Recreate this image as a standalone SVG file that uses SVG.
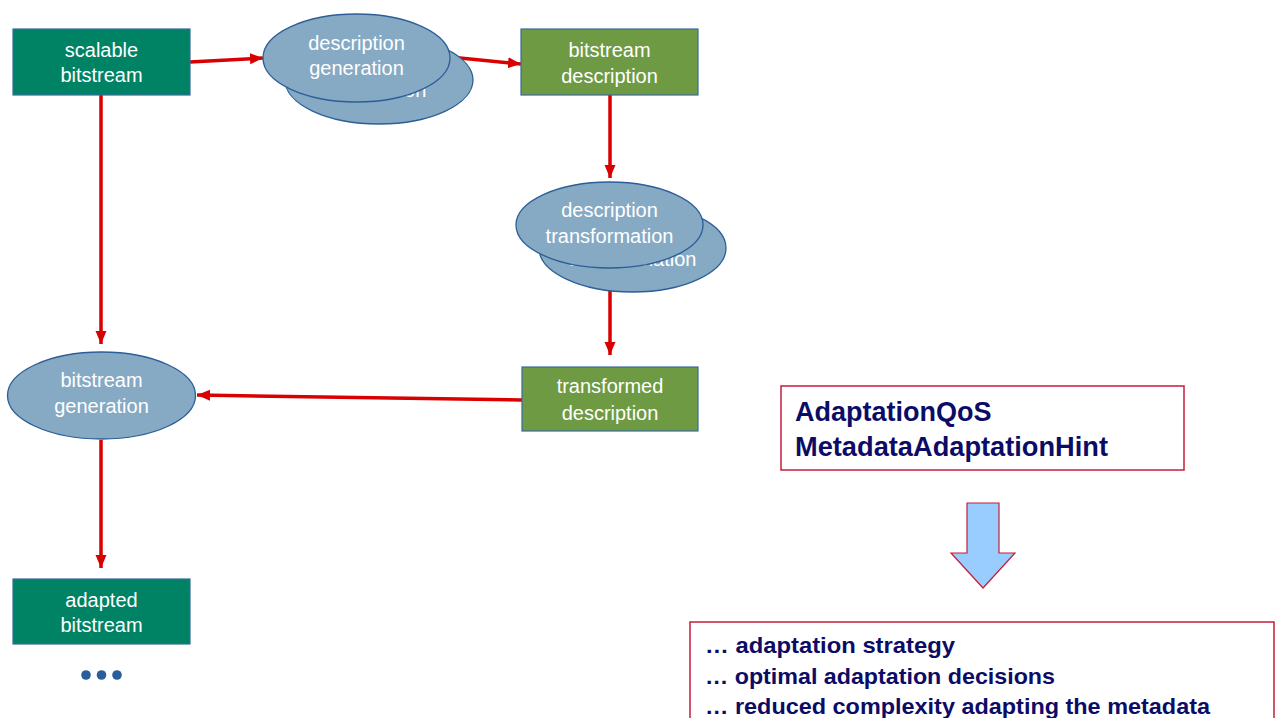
<svg xmlns="http://www.w3.org/2000/svg" width="1279" height="718" viewBox="0 0 1279 718">
<style>
.nt{font-family:"Liberation Sans",Arial,sans-serif;font-size:20px;fill:#ffffff;text-anchor:middle}
.box1{fill:#008264;stroke:#3a6aa0;stroke-width:1.2}
.box2{fill:#6e9a44;stroke:#3a6aa0;stroke-width:1.2}
.ell{fill:#86a9c4;stroke:#2c5e98;stroke-width:1.3}
.con{stroke:#d80000;stroke-width:3.5;fill:none;marker-end:url(#ah)}
.rb{fill:#ffffff;stroke:#c41e3a;stroke-width:1.5}
.bt{font-family:"Liberation Sans",Arial,sans-serif;font-weight:bold;fill:#0c0c66}
</style>
<defs>
<marker id="ah" markerUnits="userSpaceOnUse" markerWidth="14" markerHeight="14" viewBox="0 0 14 14" refX="13" refY="7" orient="auto">
<path d="M0,1.5 L13,7 L0,12.5 Z" fill="#d80000"/>
</marker>
</defs>
<rect width="1279" height="718" fill="#ffffff"/>

<g id="connectors">
<path class="con" d="M190,62 L263,58"/>
<path class="con" d="M450,57 L521,64"/>
<path class="con" d="M610,95 L610,178"/>
<path class="con" d="M610,269 L610,355"/>
<path class="con" d="M522,400 L197,395"/>
<path class="con" d="M101,95 L101,344"/>
<path class="con" d="M101,440 L101,568"/>
</g>

<g id="scalable-bitstream">
<rect class="box1" x="13" y="29" width="177" height="66"/>
<text class="nt" x="101.5" y="57">scalable</text>
<text class="nt" x="101.5" y="82">bitstream</text>
</g>

<g id="description-generation">
<ellipse class="ell" cx="379" cy="80" rx="94" ry="44"/>
<text class="nt" x="379" y="97">generation</text>
<ellipse class="ell" cx="356.5" cy="58" rx="93.5" ry="44"/>
<text class="nt" x="356.5" y="50">description</text>
<text class="nt" x="356.5" y="75">generation</text>
</g>

<g id="bitstream-description">
<rect class="box2" x="521" y="29" width="177" height="66"/>
<text class="nt" x="609.5" y="57">bitstream</text>
<text class="nt" x="609.5" y="83">description</text>
</g>

<g id="description-transformation">
<ellipse class="ell" cx="632.5" cy="248" rx="93.5" ry="44"/>
<text class="nt" x="632.5" y="266">transformation</text>
<ellipse class="ell" cx="609.5" cy="225" rx="93.5" ry="43"/>
<text class="nt" x="609.5" y="217">description</text>
<text class="nt" x="609.5" y="243">transformation</text>
</g>

<g id="transformed-description">
<rect class="box2" x="522" y="367" width="176" height="64"/>
<text class="nt" x="610" y="393">transformed</text>
<text class="nt" x="610" y="420">description</text>
</g>

<g id="bitstream-generation">
<ellipse class="ell" cx="101.5" cy="395.5" rx="94" ry="43.5"/>
<text class="nt" x="101.5" y="387">bitstream</text>
<text class="nt" x="101.5" y="413">generation</text>
</g>

<g id="adapted-bitstream">
<rect class="box1" x="13" y="579" width="177" height="65"/>
<text class="nt" x="101.5" y="607">adapted</text>
<text class="nt" x="101.5" y="632">bitstream</text>
</g>

<g id="ellipsis-dots" fill="#2a5d9c">
<circle cx="86" cy="675" r="4.8"/>
<circle cx="101.5" cy="675" r="4.8"/>
<circle cx="117" cy="675" r="4.8"/>
</g>

<g id="hint-box">
<rect class="rb" x="781" y="386" width="403" height="84"/>
<text class="bt" x="795" y="421" font-size="27">AdaptationQoS</text>
<text class="bt" x="795" y="456" font-size="27" textLength="313" lengthAdjust="spacingAndGlyphs">MetadataAdaptationHint</text>
</g>

<g id="block-arrow">
<path d="M967,503 L999,503 L999,553 L1015,553 L983,588 L951,553 L967,553 Z" fill="#99ccff" stroke="#c41e3a" stroke-width="1.2"/>
</g>

<g id="result-box">
<rect class="rb" x="690" y="622" width="584" height="110"/>
<text class="bt" x="705" y="653" font-size="22" textLength="250" lengthAdjust="spacingAndGlyphs">… adaptation strategy</text>
<text class="bt" x="705" y="684" font-size="22" textLength="350" lengthAdjust="spacingAndGlyphs">… optimal adaptation decisions</text>
<text class="bt" x="705" y="714" font-size="22" textLength="505" lengthAdjust="spacingAndGlyphs">… reduced complexity adapting the metadata</text>
</g>
</svg>
